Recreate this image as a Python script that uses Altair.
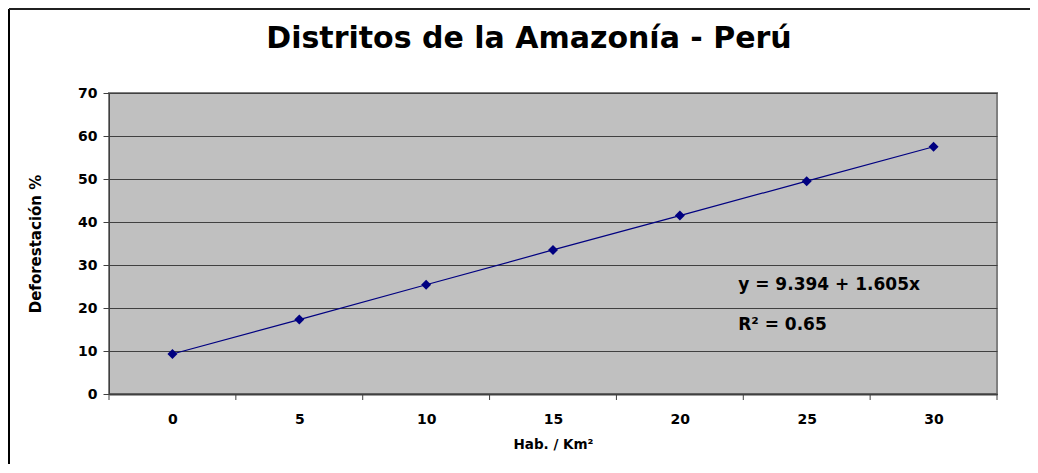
import altair as alt
import pandas as pd

# Data
hab_km2 = [0, 5, 10, 15, 20, 25, 30]
deforestacion = [9.3, 17.3, 25.4, 33.5, 41.5, 49.5, 57.5]
tick_bounds = [-2.5, 2.5, 7.5, 12.5, 17.5, 22.5, 27.5, 32.5]
annot_text = ["y = 9.394 + 1.605x", "R² = 0.65"]
annot_x = [22.3, 22.3]
annot_y = [25.3, 16.0]

df = pd.DataFrame({"x": hab_km2, "y": deforestacion})
ticks_df = pd.DataFrame({"x": tick_bounds})
annot_df = pd.DataFrame({"t": annot_text, "x": annot_x, "y": annot_y})

W, H = 888, 301
FONT = "DejaVu Sans"

xscale = alt.Scale(domain=[-2.5, 32.5], nice=False, zero=False)
yscale = alt.Scale(domain=[0, 70], nice=False)

x_axis = alt.Axis(
    values=hab_km2, ticks=False, grid=False, domainColor="#404040", domainWidth=2,
    labelFont=FONT, labelFontSize=14, labelFontWeight="bold", labelColor="black",
    labelPadding=18, title="Hab. / Km²", titleFont=FONT, titleFontSize=13.5,
    titleFontWeight="bold", titlePadding=11, titleColor="black",
)
y_axis = alt.Axis(
    values=list(range(0, 71, 10)), grid=True, gridColor="#404040", gridWidth=1,
    domainColor="#404040", domainWidth=1, tickColor="#404040", tickSize=6,
    labelFont=FONT, labelFontSize=14, labelFontWeight="bold", labelColor="black",
    labelPadding=6, title="Deforestación %", titleFont=FONT, titleFontSize=15,
    titleFontWeight="bold", titlePadding=34, titleColor="black",
)

base = alt.Chart(df)

line = base.mark_line(color="#000080", strokeWidth=1.2).encode(
    x=alt.X("x:Q", scale=xscale, axis=x_axis),
    y=alt.Y("y:Q", scale=yscale, axis=y_axis),
)
points = base.mark_point(shape="diamond", filled=True, color="#000080", size=100, opacity=1).encode(
    x=alt.X("x:Q", scale=xscale),
    y=alt.Y("y:Q", scale=yscale),
)
xticks = alt.Chart(ticks_df).mark_rule(color="#404040", strokeWidth=1, clip=False).encode(
    x=alt.X("x:Q", scale=xscale),
    y=alt.value(H),
    y2=alt.value(H + 6),
)
annot = alt.Chart(annot_df).mark_text(
    align="left", baseline="middle", font=FONT, fontSize=17, fontWeight="bold", color="black"
).encode(
    x=alt.X("x:Q", scale=xscale),
    y=alt.Y("y:Q", scale=yscale),
    text="t:N",
)
# chart-area frame (left and top edges)
frame_left = alt.Chart(df).mark_rule(color="black", strokeWidth=2, clip=False).encode(
    x=alt.value(-100), y=alt.value(-84), y2=alt.value(H + 80)
)
frame_top = alt.Chart(df).mark_rule(color="#202020", strokeWidth=2, clip=False).encode(
    x=alt.value(-100), x2=alt.value(W + 40), y=alt.value(-84)
)

chart = alt.layer(line, points, xticks, annot, frame_left, frame_top).properties(
    width=W,
    height=H,
    title=alt.TitleParams(
        "Distritos de la Amazonía - Perú", font=FONT, fontSize=30, fontWeight="bold",
        color="black", anchor="middle", frame="group", offset=-46, dx=-24,
    ),
    autosize=alt.AutoSizeParams(type="none"),
    padding={"left": 101, "top": 85, "right": 33, "bottom": 70},
    background="white",
).configure_view(
    fill="#C0C0C0", stroke="#808080", strokeWidth=2
)

chart.save("out.html", embed_options={"renderer": "svg", "actions": False})
